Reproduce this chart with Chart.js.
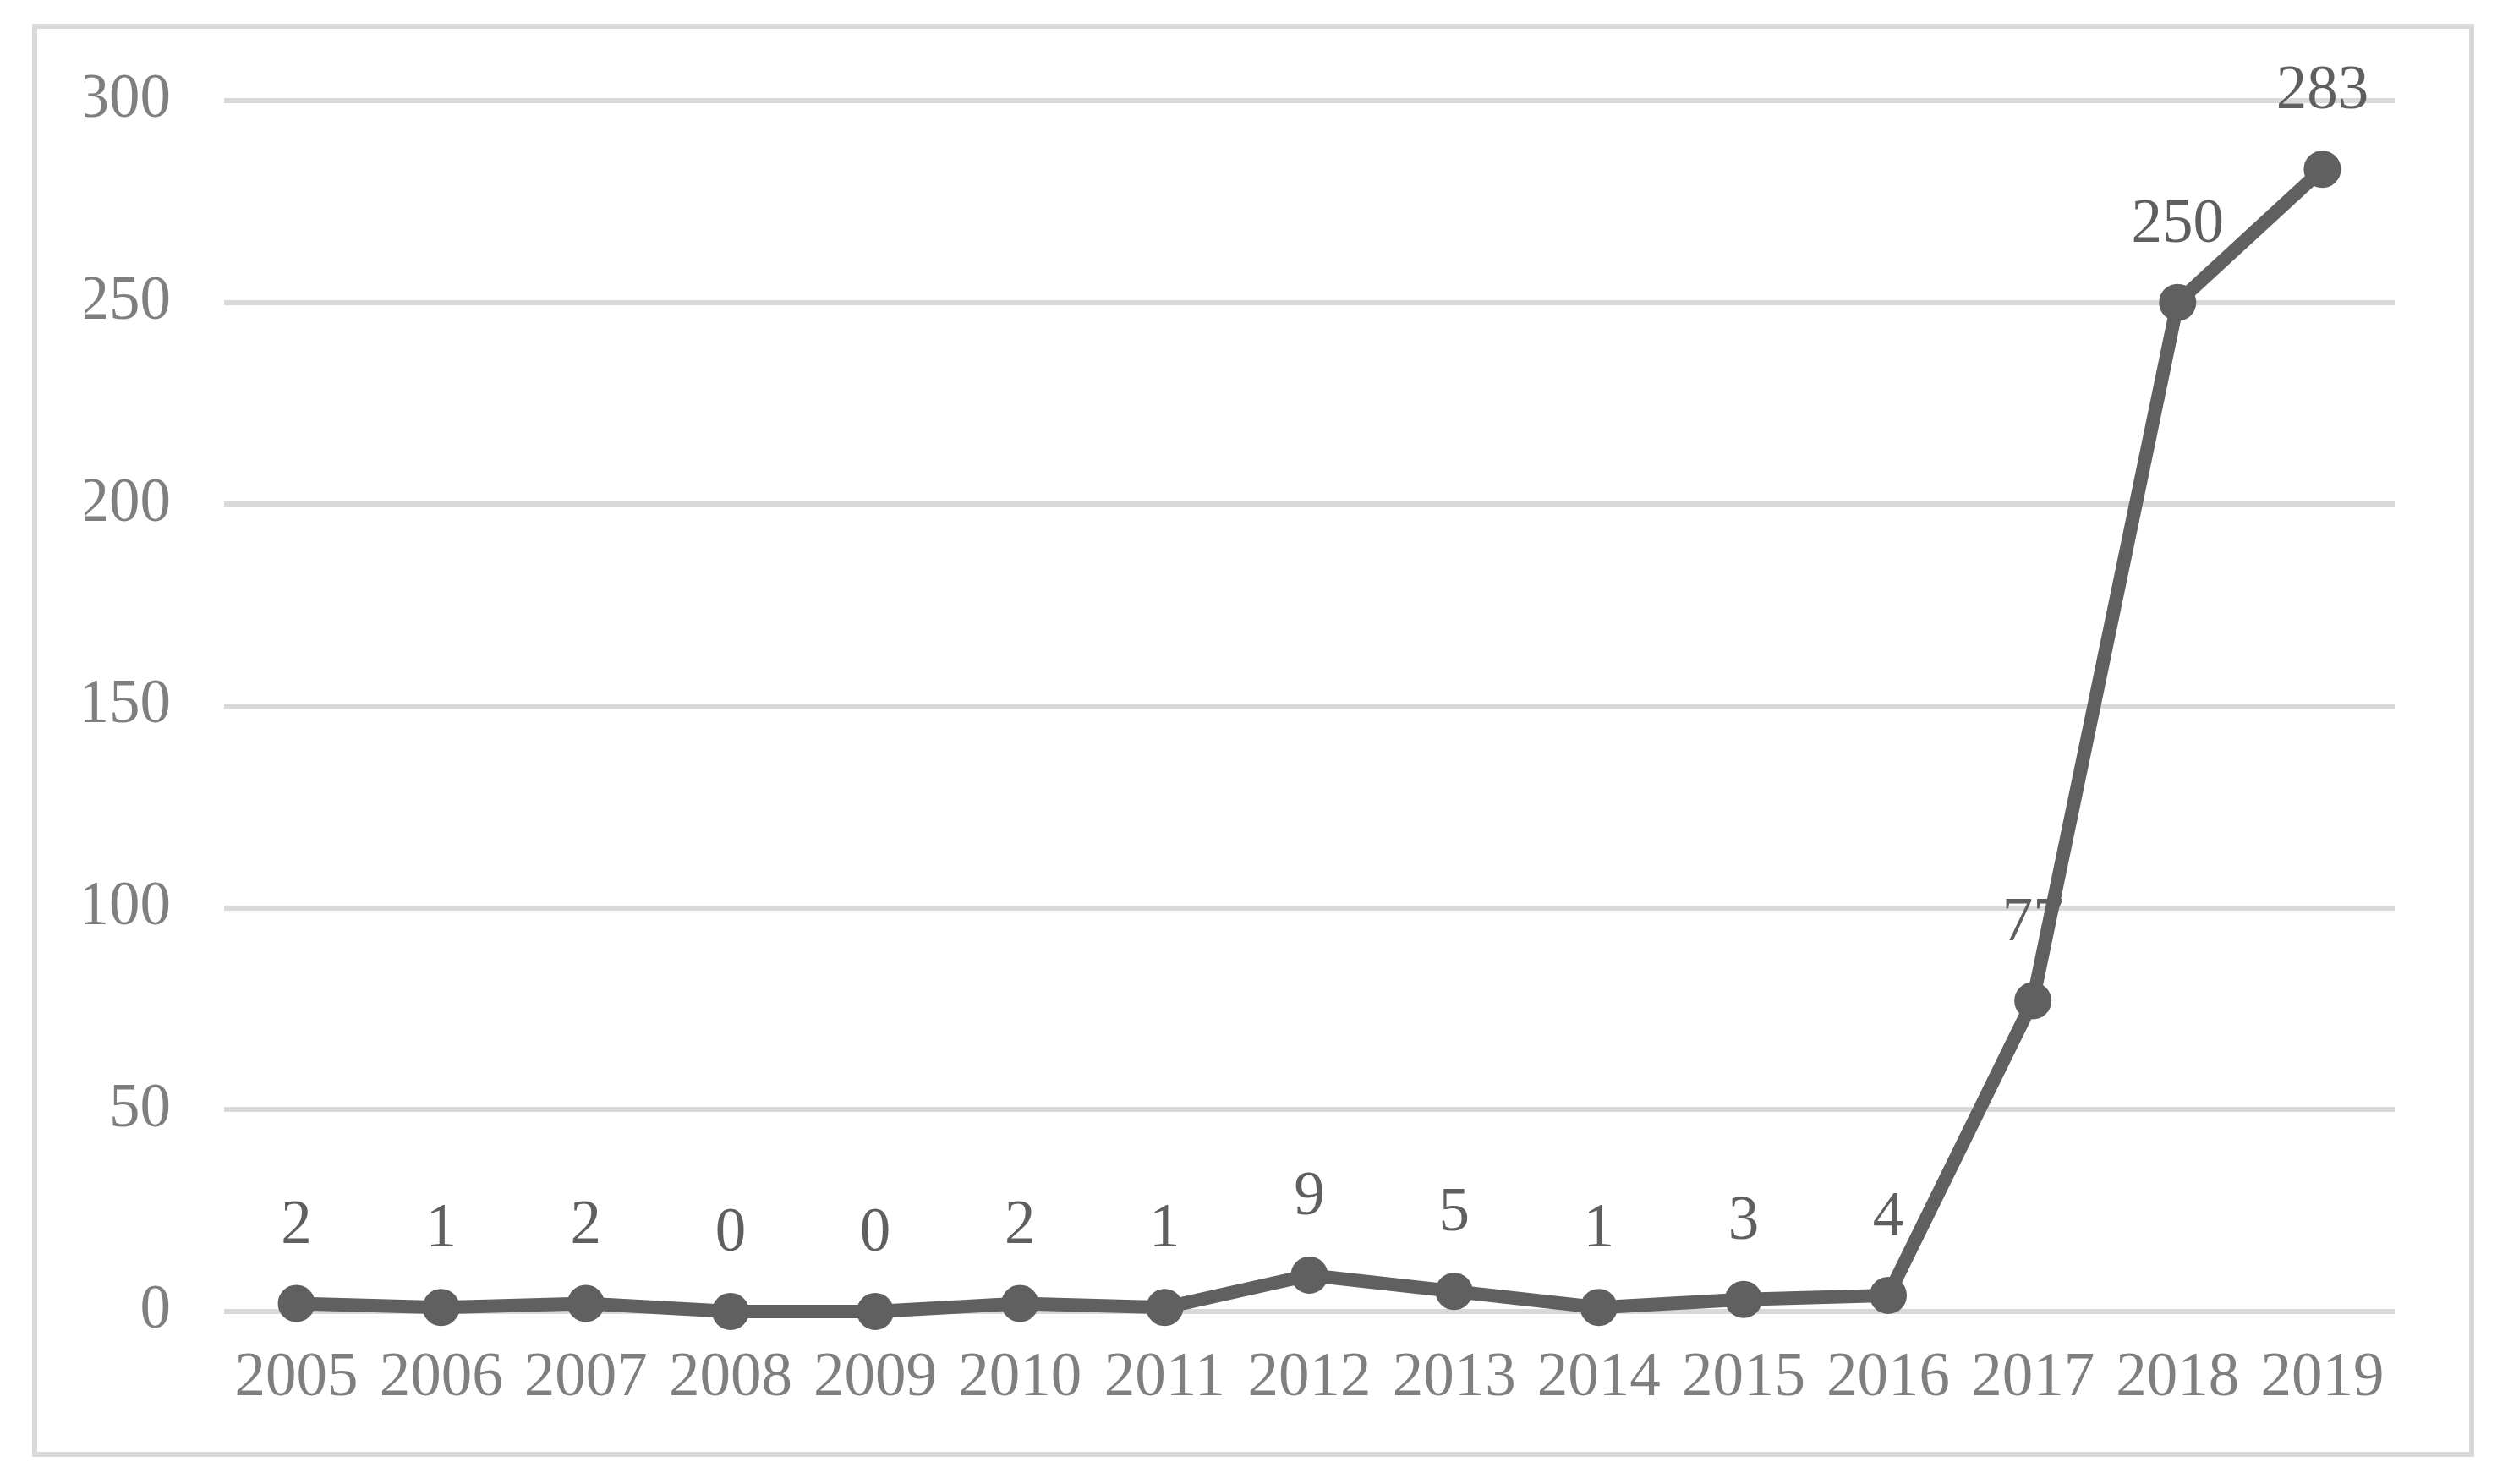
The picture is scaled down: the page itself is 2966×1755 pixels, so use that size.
<!DOCTYPE html>
<html>
<head>
<meta charset="utf-8">
<script src="https://cdn.jsdelivr.net/npm/chart.js@4/dist/chart.umd.min.js"></script>
<style>
  html, body { margin: 0; padding: 0; background: #ffffff; }
  #wrap { position: relative; width: 2966px; height: 1755px; }
  #frame {
    position: absolute; left: 38px; top: 28px; width: 2876px; height: 1683px;
    border: 6px solid #d9d9d9; pointer-events: none;
  }
</style>
</head>
<body>
<div id="wrap">
  <canvas id="trend" width="2966" height="1755"></canvas>
  <div id="frame"></div>
</div>
<script>
const years = ['2005', '2006', '2007', '2008', '2009', '2010', '2011', '2012',
  '2013', '2014', '2015', '2016', '2017', '2018', '2019'];
const counts = [2, 1, 2, 0, 0, 2, 1, 9, 5, 1, 3, 4, 77, 250, 283];
const yMin = 0;
const yMax = 300;
const yStep = 50;

const fontName = '"Liberation Serif", "DejaVu Serif", serif';

// value labels sit above each point, under the line
const pointLabels = {
  id: 'pointLabels',
  beforeDatasetsDraw(chart) {
    const ctx = chart.ctx;
    const meta = chart.getDatasetMeta(0);
    ctx.save();
    ctx.font = '73px ' + fontName;
    ctx.fillStyle = '#5f5f5f';
    ctx.textAlign = 'center';
    ctx.textBaseline = 'middle';
    meta.data.forEach((pt, i) => {
      ctx.fillText(String(counts[i]), pt.x, pt.y - 91);
    });
    ctx.restore();
  }
};

const ctx = document.getElementById('trend');
new Chart(ctx, {
  type: 'line',
  data: {
    labels: years,
    datasets: [{
      data: counts,
      borderColor: '#606060',
      backgroundColor: '#606060',
      borderWidth: 16,
      pointRadius: 20,
      pointBorderWidth: 4,
      pointBorderColor: '#606060',
      pointBackgroundColor: '#606060',
      fill: false,
      tension: 0,
      clip: false
    }]
  },
  options: {
    responsive: false,
    animation: false,
    events: [],
    layout: {
      padding: { left: 100, right: 134, top: 119, bottom: 64 }
    },
    plugins: {
      legend: { display: false },
      tooltip: { enabled: false }
    },
    scales: {
      x: {
        offset: true,
        grid: { display: false, drawTicks: false },
        border: { display: false },
        ticks: {
          color: '#7f7f7f',
          autoSkip: false,
          maxRotation: 0,
          padding: 36,
          font: { family: fontName, size: 73 }
        },
        afterFit(scale) { scale.height = 140; }
      },
      y: {
        min: yMin,
        max: yMax,
        grid: { color: '#d9d9d9', lineWidth: 6, drawTicks: false },
        border: { display: false },
        ticks: {
          stepSize: yStep,
          color: '#7f7f7f',
          padding: 63,
          font: { family: fontName, size: 73 }
        },
        afterFit(scale) { scale.width = 165; }
      }
    }
  },
  plugins: [pointLabels]
});
</script>
</body>
</html>
